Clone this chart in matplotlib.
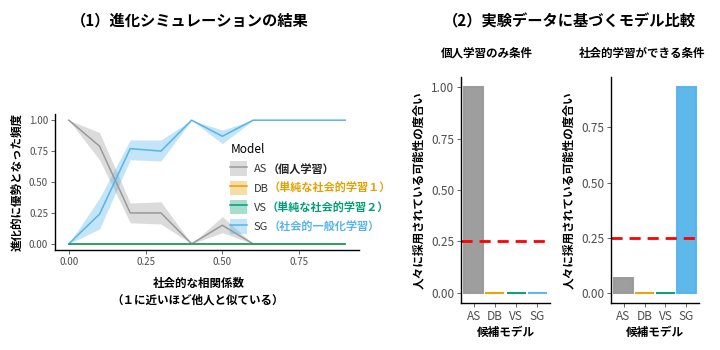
import numpy as np
import matplotlib
matplotlib.use("Agg")
import matplotlib.pyplot as plt
from matplotlib.patches import Patch
from matplotlib.lines import Line2D

plt.rcParams["font.family"] = ["Noto Sans CJK JP", "DejaVu Sans"]

# (1) evolutionary simulation
corr = [0.0, 0.1, 0.2, 0.3, 0.4, 0.5, 0.6, 0.7, 0.8, 0.9]
as_mean = [1.0, 0.79, 0.25, 0.25, 0.0, 0.15, 0.0, 0.0, 0.0, 0.0]
as_lo = [1.0, 0.68, 0.17, 0.16, 0.0, 0.09, 0.0, 0.0, 0.0, 0.0]
as_hi = [1.0, 0.90, 0.33, 0.34, 0.0, 0.22, 0.0, 0.0, 0.0, 0.0]
sg_mean = [0.0, 0.24, 0.77, 0.75, 1.0, 0.87, 1.0, 1.0, 1.0, 1.0]
sg_lo = [0.0, 0.12, 0.68, 0.67, 1.0, 0.81, 1.0, 1.0, 1.0, 1.0]
sg_hi = [0.0, 0.37, 0.84, 0.84, 1.0, 0.92, 1.0, 1.0, 1.0, 1.0]
db_mean = [0.0] * 10
vs_mean = [0.0] * 10

models = ["AS", "DB", "VS", "SG"]
model_desc = ["（個人学習）", "（単純な社会的学習１）", "（単純な社会的学習２）", "（社会的一般化学習）"]
colors = ["#999999", "#E69F00", "#009E73", "#56B4E9"]

# (2) model comparison with experimental data
indiv_vals = [1.0, 0.0, 0.0, 0.0]
social_vals = [0.068, 0.0, 0.0, 0.932]
chance = 0.25

fig = plt.figure(figsize=(7.2, 3.5), dpi=100)
W, H = 720, 350

def ax_px(x0, x1, ytop, ybot):
    return fig.add_axes([x0 / W, 1 - ybot / H, (x1 - x0) / W, (ybot - ytop) / H])

tick_col = "#4D4D4D"

# ---- panel 1
ax1 = ax_px(55, 359, 114, 250)
ax1.fill_between(corr, as_lo, as_hi, color="#999999", alpha=0.35, lw=0)
ax1.fill_between(corr, sg_lo, sg_hi, color="#56B4E9", alpha=0.35, lw=0)
ax1.plot(corr, as_mean, color="#999999", lw=1.1)
ax1.plot(corr, db_mean, color="#E69F00", lw=1.1)
ax1.plot(corr, sg_mean, color="#56B4E9", lw=1.1)
ax1.plot(corr, vs_mean, color="#009E73", lw=1.1)
ax1.set_xlim(-0.045, 0.945)
ax1.set_ylim(-0.05, 1.05)
ax1.set_xticks([0, 0.25, 0.5, 0.75])
ax1.set_yticks([0, 0.25, 0.5, 0.75, 1.0])
ax1.xaxis.set_major_formatter(lambda v, p: f"{v:.2f}")
ax1.yaxis.set_major_formatter(lambda v, p: f"{v:.2f}")
ax1.tick_params(labelsize=7, colors=tick_col, length=3, width=0.6, pad=2)
ax1.set_ylabel("進化的に優勢となった頻度", fontsize=8.3, fontweight="bold", labelpad=4)

handles = [(Patch(facecolor=c, alpha=0.35, lw=0), Line2D([], [], color=c, lw=1.1)) for c in colors]
leg = ax1.legend(handles, models, title="Model", loc="upper left",
                 bbox_to_anchor=(226 / W, 1 - 139 / H), bbox_transform=fig.transFigure,
                 frameon=False, fontsize=8, title_fontsize=8.5,
                 handlelength=1.5, handleheight=1.6, handletextpad=0.6,
                 labelspacing=0.45, borderaxespad=0)
leg._legend_box.align = "left"
for t in leg.get_texts():
    t.set_color("#333333")

fig.text(199 / W, 1 - 283 / H, "社会的な相関係数", ha="center", va="center",
         fontsize=8.3, fontweight="bold")
fig.text(198 / W, 1 - 300 / H, "（１に近いほど他人と似ている）", ha="center", va="center",
         fontsize=8.3, fontweight="bold")

# ---- panel 2
def bar_panel(ax, vals, ymax, yticks):
    x = np.arange(len(models))
    ax.bar(x, vals, width=0.9, color=colors, edgecolor=colors, lw=1.5, alpha=0.95)
    ax.axhline(chance, color="red", lw=2, ls=(0, (4, 2.5)))
    ax.set_xlim(-0.6, 3.6)
    ax.set_ylim(-0.05 * ymax, 1.05 * ymax)
    ax.set_xticks(x)
    ax.set_xticklabels(models)
    ax.set_yticks(yticks)
    ax.yaxis.set_major_formatter(lambda v, p: f"{v:.2f}")
    ax.tick_params(labelsize=8.5, colors=tick_col, length=3, width=0.6, pad=2)
    ax.set_xlabel("候補モデル", fontsize=8.4, fontweight="bold", labelpad=2)
    ax.set_ylabel("人々に採用されている可能性の度合い", fontsize=8.4, fontweight="bold", labelpad=4)

ax2 = ax_px(461, 550, 77, 303)
bar_panel(ax2, indiv_vals, max(indiv_vals), [0, 0.25, 0.5, 0.75, 1.0])
ax3 = ax_px(611, 699, 77, 303)
bar_panel(ax3, social_vals, max(social_vals), [0, 0.25, 0.5, 0.75])

for ax in (ax1, ax2, ax3):
    for s in ("top", "right"):
        ax.spines[s].set_visible(False)
    for s in ("left", "bottom"):
        ax.spines[s].set_linewidth(1)

fig.text(487 / W, 1 - 53 / H, "個人学習のみ条件", ha="center", va="center",
         fontsize=8.3, fontweight="bold")
fig.text(642 / W, 1 - 53 / H, "社会的学習ができる条件", ha="center", va="center",
         fontsize=8.3, fontweight="bold")

fig.text(190 / W, 1 - 20 / H, "（1）進化シミュレーションの結果", ha="center", va="center",
         fontsize=11, fontweight="bold")
fig.text(569 / W, 1 - 21 / H, "（2）実験データに基づくモデル比較", ha="center", va="center",
         fontsize=11, fontweight="bold")

# legend descriptions in model colours, placed after each label
fig.canvas.draw()
r = fig.canvas.get_renderer()
for t, desc, c in zip(leg.get_texts(), model_desc, colors):
    bb = t.get_window_extent(r)
    col = "#222222" if desc == model_desc[0] else c
    fig.text(bb.x1 / fig.bbox.width, (bb.y0 + bb.y1) / 2 / fig.bbox.height, desc,
             ha="left", va="center", fontsize=8, fontweight="bold", color=col)

fig.savefig("out.png", dpi=100)
